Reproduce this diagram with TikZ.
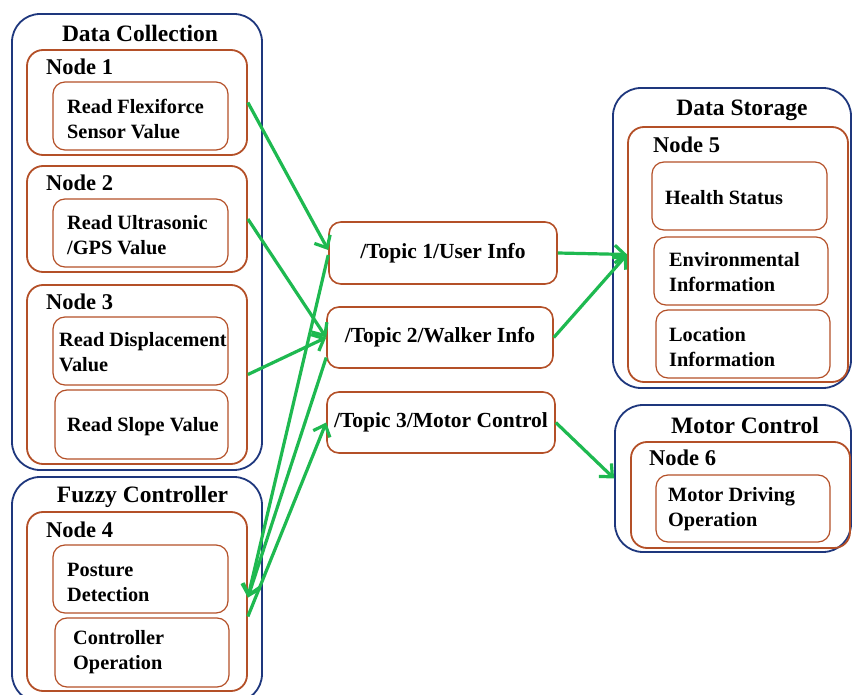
\documentclass[tikz,border=0pt]{standalone}
\usepackage{fontspec}
\setmainfont{Liberation Serif}
\usetikzlibrary{arrows.meta}
\definecolor{frameblue}{RGB}{30,55,125}
\definecolor{framebrown}{RGB}{180,80,40}
\definecolor{arrowgreen}{RGB}{30,185,80}
\begin{document}
\begin{tikzpicture}[x=1pt,y=-1pt,
  outerbox/.style={draw=frameblue, line width=1.8pt, rounded corners=28pt, inner sep=0pt},
  nodebox/.style={draw=framebrown, line width=1.8pt, rounded corners=16pt, inner sep=0pt},
  taskbox/.style={draw=framebrown, line width=1.2pt, rounded corners=12pt, inner sep=0pt},
  topicbox/.style={draw=framebrown, line width=1.6pt, rounded corners=12pt, inner sep=0pt,
    font=\bfseries\fontsize{21.5}{24}\selectfont},
  titletext/.style={font=\bfseries\fontsize{23.5}{26}\selectfont, inner sep=0pt},
  nodelabel/.style={font=\bfseries\fontsize{22.5}{25}\selectfont, anchor=west, inner sep=0pt},
  tasktext/.style={font=\bfseries\fontsize{20.3}{25}\selectfont, anchor=west, align=left, inner sep=0pt},
  flow/.style={draw=arrowgreen, line width=3.2pt, -{Straight Barb[length=10pt,width=18pt]}}
]
\useasboundingbox (0,0) rectangle (852,695);
\fill[white] (0,0) rectangle (852,695);

% outer groups
\node[outerbox, minimum width=250, minimum height=456] (dc) at (137,242) {};
\node[outerbox, minimum width=250, minimum height=225] (fc) at (137,589.5) {};
\node[outerbox, minimum width=238, minimum height=300] (ds) at (732,238) {};
\node[outerbox, minimum width=236, minimum height=147] (mc) at (733,478.5) {};

% ROS nodes
\node[nodebox, minimum width=220, minimum height=105] (n1) at (137,102.5) {};
\node[nodebox, minimum width=220, minimum height=106] (n2) at (137,219) {};
\node[nodebox, minimum width=220, minimum height=179] (n3) at (137,374.5) {};
\node[nodebox, minimum width=220, minimum height=179] (n4) at (137,601.5) {};
\node[nodebox, minimum width=220, minimum height=255] (n5) at (738,254.5) {};
\node[nodebox, minimum width=219, minimum height=106] (n6) at (740.5,495) {};

% tasks
\node[taskbox, minimum width=175, minimum height=68] (t1) at (140.5,116) {};
\node[taskbox, minimum width=175, minimum height=68] (t2) at (140.5,233) {};
\node[taskbox, minimum width=175, minimum height=68] (t3a) at (140.5,351) {};
\node[taskbox, minimum width=173, minimum height=69] (t3b) at (141.5,424.5) {};
\node[taskbox, minimum width=175, minimum height=68] (t4a) at (140.5,579) {};
\node[taskbox, minimum width=174, minimum height=69] (t4b) at (142,652.5) {};
\node[taskbox, minimum width=175, minimum height=68] (t5a) at (739.5,196) {};
\node[taskbox, minimum width=174, minimum height=68] (t5b) at (741,271) {};
\node[taskbox, minimum width=174, minimum height=68] (t5c) at (743,344) {};
\node[taskbox, minimum width=174, minimum height=67] (t6) at (743,508.5) {};

% topics
\node[topicbox, minimum width=228, minimum height=62] (T1) at (443,253) {/Topic 1/User Info};
\node[topicbox, minimum width=226, minimum height=61] (T2) at (440,337.5) {/Topic 2/Walker Info};
\node[topicbox, minimum width=228, minimum height=61] (T3) at (441,422.5) {/Topic 3/Motor Control};

% titles
\node[titletext] (dcl) at (140,33) {Data Collection};
\node[titletext] (fcl) at (142.5,497) {Fuzzy Controller};
\node[titletext] (dsl) at (742,110) {Data Storage};
\node[titletext] (mcl) at (745,425) {Motor Control};

% node labels
\node[nodelabel] (n1l) at (46,67) {Node 1};
\node[nodelabel] (n2l) at (46,183) {Node 2};
\node[nodelabel] (n3l) at (46,302) {Node 3};
\node[nodelabel] (n4l) at (46,530) {Node 4};
\node[nodelabel] (n5l) at (653,145) {Node 5};
\node[nodelabel] (n6l) at (649,458) {Node 6};

% task texts
\node[tasktext] (t1l) at (67,119.5) {Read Flexiforce\\Sensor Value};
\node[tasktext] (t2l) at (67,235.5) {Read Ultrasonic\\/GPS Value};
\node[tasktext] (t3al) at (59,352.5) {Read Displacement\\Value};
\node[tasktext] (t3bl) at (67,427) {Read Slope Value};
\node[tasktext] (t4al) at (67,582) {Posture\\Detection};
\node[tasktext] (t4bl) at (73,652.5) {Controller\\Operation};
\node[tasktext] (t5al) at (665,198) {Health Status};
\node[tasktext] (t5bl) at (669,272.5) {Environmental\\Information};
\node[tasktext] (t5cl) at (669,347.5) {Location\\Information};
\node[tasktext] (t6l) at (668,509.5) {Motor Driving\\Operation};

% connectors
\draw[flow] (n1.east) -- ([yshift=3pt]T1.west);
\draw[flow] (n2.east) -- (T2.west);
\draw[flow] (n3.east) -- (T2.west);
\draw[flow] ([yshift=-2pt]T1.west) -- ([yshift=4pt]n4.east);
\draw[flow] ([yshift=-20pt]T2.west) -- ([yshift=4pt]n4.east);
\draw[flow] ([yshift=-15pt]n4.east) -- (T3.west);
\draw[flow] (T1.east) -- (n5.west);
\draw[flow] (T2.east) -- (n5.west);
\draw[flow] (T3.east) -- (mc.west);
\end{tikzpicture}
\end{document}
